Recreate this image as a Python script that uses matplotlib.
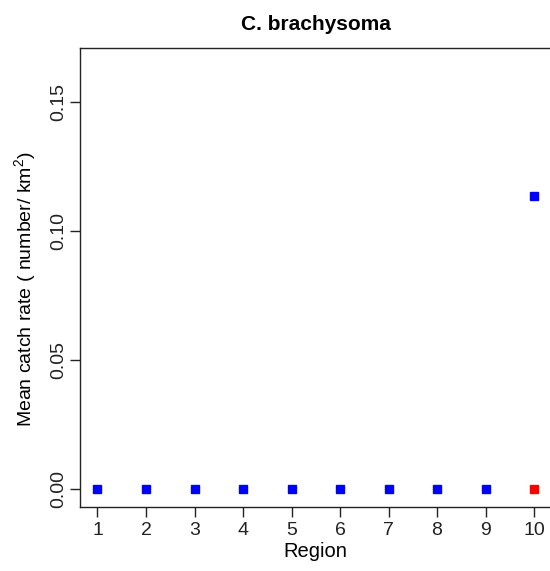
import matplotlib
matplotlib.use("Agg")
import matplotlib.pyplot as plt

# data
regions = [1, 2, 3, 4, 5, 6, 7, 8, 9, 10]
blue_rate = [0, 0, 0, 0, 0, 0, 0, 0, 0, 0.1135]
red_regions = [10]
red_rate = [0]

plt.rcParams['font.family'] = ['Liberation Sans', 'DejaVu Sans']
plt.rcParams['mathtext.default'] = 'regular'


def main():
    fig = plt.figure(figsize=(5.5, 5.71), dpi=100)
    ax = fig.add_axes([0.1455, 0.1121, 0.8573, 0.8039])

    ax.plot(regions, blue_rate, linestyle='none', marker='s', markersize=5.5,
            color='#0000ff')
    ax.plot(red_regions, red_rate, linestyle='none', marker='s', markersize=5.5,
            color='#ff0000')

    ax.set_xlim(0.64, 10.36)
    ax.set_ylim(-0.007, 0.171)
    ax.set_xticks(regions)
    ax.set_yticks([0.00, 0.05, 0.10, 0.15])
    ax.set_yticklabels(['0.00', '0.05', '0.10', '0.15'], rotation=90, va='center')
    ax.tick_params(axis='both', length=7, width=1, labelsize=14, direction='out',
                   colors='#222222', pad=4)
    ax.tick_params(axis='y', pad=2)
    for side in ax.spines.values():
        side.set_linewidth(1)
        side.set_color('#222222')

    ax.set_title('C. brachysoma', fontsize=15, fontweight='bold', pad=13)
    ax.set_xlabel('Region', fontsize=14.5, labelpad=2)
    ax.set_ylabel('Mean catch rate ( number/ km$^2$)', fontsize=14)
    ax.yaxis.set_label_coords(-0.09, 0.475)

    fig.savefig('out.png', dpi=100)


if __name__ == "__main__":
    main()
